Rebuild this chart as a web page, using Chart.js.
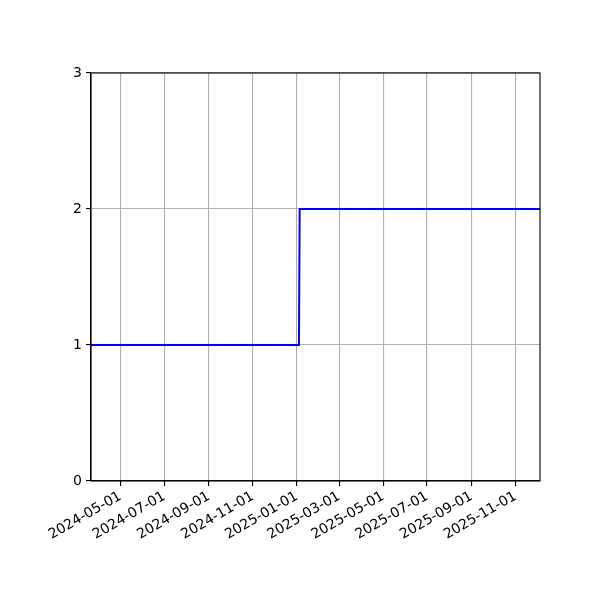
<!DOCTYPE html>
<html>
<head>
<meta charset="utf-8">
<script src="https://cdn.jsdelivr.net/npm/chart.js@4/dist/chart.umd.min.js"></script>
<style>
  body { margin: 0; background: #fff; }
  #wrap { width: 600px; height: 600px; }
</style>
</head>
<body>
<div id="wrap"><canvas id="stepChart" width="600" height="600"></canvas></div>
<script>
// data
const dates = ['2024-03-21', '2025-01-04', '2025-01-05', '2025-12-05'];
const values = [1, 1, 2, 2];
const xTickDates = ['2024-05-01', '2024-07-01', '2024-09-01', '2024-11-01', '2025-01-01',
  '2025-03-01', '2025-05-01', '2025-07-01', '2025-09-01', '2025-11-01'];
const yTicks = [0, 1, 2, 3];
const xStart = '2024-03-21';
const xEnd = '2025-12-05';

// dates -> day numbers (no date adapter offline)
const DAY = 86400000;
function toDay(s) {
  const p = s.split('-').map(Number);
  return Date.UTC(p[0], p[1] - 1, p[2]) / DAY;
}
function fromDay(d) {
  return new Date(Math.round(d) * DAY).toISOString().slice(0, 10);
}

const points = dates.map((d, i) => ({ x: toDay(d), y: values[i] }));

// draw the top / right spines like matplotlib
const frame = {
  id: 'frame',
  afterDraw(chart) {
    const { ctx, chartArea: a } = chart;
    ctx.save();
    ctx.strokeStyle = '#000';
    ctx.lineWidth = 1.1;
    ctx.strokeRect(a.left, a.top, a.right - a.left, a.bottom - a.top);
    ctx.restore();
  }
};

const font = { family: 'DejaVu Sans', size: 14 };

new Chart(document.getElementById('stepChart').getContext('2d'), {
  type: 'line',
  data: {
    datasets: [{
      data: points,
      borderColor: '#0000ff',
      borderWidth: 2,
      pointRadius: 0,
      tension: 0,
      fill: false
    }]
  },
  options: {
    responsive: false,
    animation: false,
    layout: { padding: { left: 0, right: 60, top: 73, bottom: 0 } },
    plugins: { legend: { display: false }, tooltip: { enabled: false } },
    scales: {
      x: {
        type: 'linear',
        min: toDay(xStart),
        max: toDay(xEnd),
        afterBuildTicks: scale => {
          scale.ticks = xTickDates.map(d => ({ value: toDay(d) }));
        },
        afterFit: scale => { scale.height = 119; },
        grid: { color: '#b0b0b0', lineWidth: 1.1, tickColor: '#000', tickLength: 5 },
        border: { color: '#000', width: 1.1 },
        ticks: {
          autoSkip: false,
          minRotation: 30,
          maxRotation: 30,
          padding: 2,
          color: '#000',
          font: font,
          callback: v => fromDay(v)
        }
      },
      y: {
        min: 0,
        max: 3,
        afterBuildTicks: scale => {
          scale.ticks = yTicks.map(v => ({ value: v }));
        },
        afterFit: scale => { scale.width = 91; },
        grid: { color: '#b0b0b0', lineWidth: 1.1, tickColor: '#000', tickLength: 5 },
        border: { color: '#000', width: 1.1 },
        ticks: { padding: 4, color: '#000', font: font }
      }
    }
  },
  plugins: [frame]
});
</script>
</body>
</html>
